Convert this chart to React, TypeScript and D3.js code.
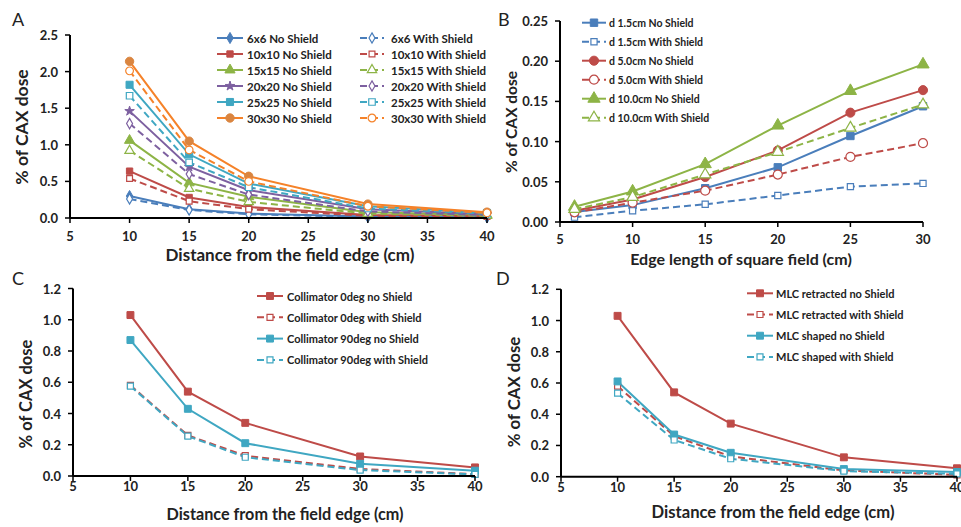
import React from "react";
import * as d3 from "d3";

// ---------- DATA ----------
const distances = [10, 15, 20, 30, 40];
const fieldEdges = [6, 10, 15, 20, 25, 30];

// Panel A: field size series vs distance
const a6x6No = [0.3, 0.12, 0.06, 0.02, 0.01];
const a6x6With = [0.26, 0.11, 0.05, 0.015, 0.01];
const a10x10No = [0.64, 0.28, 0.15, 0.04, 0.03];
const a10x10With = [0.54, 0.23, 0.12, 0.03, 0.02];
const a15x15No = [1.06, 0.48, 0.29, 0.08, 0.04];
const a15x15With = [0.92, 0.4, 0.22, 0.06, 0.03];
const a20x20No = [1.46, 0.7, 0.38, 0.12, 0.05];
const a20x20With = [1.29, 0.6, 0.32, 0.09, 0.04];
const a25x25No = [1.82, 0.87, 0.47, 0.16, 0.07];
const a25x25With = [1.67, 0.76, 0.42, 0.13, 0.06];
const a30x30No = [2.14, 1.05, 0.57, 0.19, 0.08];
const a30x30With = [2.01, 0.93, 0.5, 0.16, 0.07];

// Panel B: depth series vs edge length
const b15No = [0.0125, 0.021, 0.042, 0.068, 0.107, 0.144];
const b15With = [0.006, 0.014, 0.022, 0.033, 0.044, 0.048];
const b50No = [0.014, 0.028, 0.056, 0.089, 0.136, 0.164];
const b50With = [0.012, 0.024, 0.039, 0.059, 0.081, 0.098];
const b100No = [0.019, 0.038, 0.072, 0.12, 0.163, 0.196];
const b100With = [0.016, 0.031, 0.059, 0.087, 0.117, 0.146];

// Panel C: collimator angle
const c0No = [1.03, 0.54, 0.34, 0.125, 0.055];
const c0With = [0.58, 0.26, 0.13, 0.045, 0.012];
const c90No = [0.87, 0.43, 0.21, 0.078, 0.034];
const c90With = [0.575, 0.255, 0.12, 0.038, 0.01];

// Panel D: MLC
const dRetNo = [1.03, 0.54, 0.34, 0.124, 0.054];
const dRetWith = [0.58, 0.26, 0.13, 0.04, 0.012];
const dShapedNo = [0.61, 0.27, 0.153, 0.049, 0.03];
const dShapedWith = [0.535, 0.235, 0.115, 0.036, 0.018];

const ticksDistance = [5, 10, 15, 20, 25, 30, 35, 40];
const ticksEdge = [5, 10, 15, 20, 25, 30];
const ticksA = [0, 0.5, 1.0, 1.5, 2.0, 2.5];
const ticksB = [0, 0.05, 0.1, 0.15, 0.2, 0.25];
const ticksCD = [0, 0.2, 0.4, 0.6, 0.8, 1.0, 1.2];

// ---------- STYLE ----------
const BLUE = "#4A7EBB";
const RED = "#BE4B48";
const GREEN = "#8DB446";
const PURPLE = "#7D60A0";
const AQUA = "#3FA7C2";
const ORANGE = "#F58229";
const FONT = "Lato, 'Open Sans', sans-serif";

type Sym = "diamond" | "square" | "triangle" | "star" | "circle";
type Series = { name: string; values: number[]; color: string; sym: Sym; dashed: boolean; size?: number; mfill?: string };

const symMap: Record<Sym, d3.SymbolType> = {
  diamond: d3.symbolDiamond,
  square: d3.symbolSquare,
  triangle: d3.symbolTriangle,
  star: d3.symbolStar,
  circle: d3.symbolCircle,
};

function Marker({ s, x, y }: { s: Series; x: number; y: number }) {
  const size = s.size ?? 45;
  const path = d3.symbol(symMap[s.sym], s.dashed ? size * 0.85 : size)();
  return (
    <path
      d={path || ""}
      transform={`translate(${x},${y})`}
      fill={s.dashed ? "white" : s.mfill ?? s.color}
      stroke={s.mfill ?? s.color}
      strokeWidth={s.dashed ? 1.2 : 1}
    />
  );
}

type PanelProps = {
  letter: string;
  letterPos: [number, number];
  xs: number[];
  xDomain: [number, number];
  yDomain: [number, number];
  px: [number, number];
  py: [number, number]; // bottom, top
  xTicks: number[];
  yTicks: number[];
  yFmt: (v: number) => string;
  xLabelGap: number;
  series: Series[];
  xTitle: string;
  xTitlePos: [number, number];
  xTitleSize: number;
  yTitlePos: [number, number];
  yTitleSize: number;
  legend: { cols: { lineX: [number, number]; textX: number; items: Series[] }[]; y0: number; dy: number; size: number };
};

function Panel(p: PanelProps) {
  const x = d3.scaleLinear().domain(p.xDomain).range(p.px);
  const y = d3.scaleLinear().domain(p.yDomain).range(p.py);
  const line = d3
    .line<[number, number]>()
    .x((d) => x(d[0]))
    .y((d) => y(d[1]));
  return (
    <g>
      <text x={p.letterPos[0]} y={p.letterPos[1]} fontSize={18} fontFamily={FONT} fill="#222">
        {p.letter}
      </text>
      {p.series.map((s, i) => (
        <path
          key={i}
          d={line(p.xs.map((v, j) => [v, s.values[j]] as [number, number])) || ""}
          fill="none"
          stroke={s.color}
          strokeWidth={2}
          strokeDasharray={s.dashed ? "7,4" : undefined}
        />
      ))}
      {p.series.map((s, i) => (
        <g key={"m" + i}>
          {p.xs.map((v, j) => (
            <Marker key={j} s={s} x={x(v)} y={y(s.values[j])} />
          ))}
        </g>
      ))}
      <line x1={p.px[0]} x2={p.px[1]} y1={p.py[0]} y2={p.py[0]} stroke="#000" strokeWidth={2} />
      <line x1={p.px[0]} x2={p.px[0]} y1={p.py[0]} y2={p.py[1]} stroke="#000" strokeWidth={2} />
      {p.xTicks.map((t) => (
        <g key={"xt" + t}>
          <line x1={x(t)} x2={x(t)} y1={p.py[0]} y2={p.py[0] + 5} stroke="#000" strokeWidth={1.5} />
          <text
            x={x(t)}
            y={p.py[0] + p.xLabelGap}
            textAnchor="middle"
            dominantBaseline="central"
            fontSize={13}
            fontWeight={700}
            fontFamily={FONT}
            fill="#222"
          >
            {t}
          </text>
        </g>
      ))}
      {p.yTicks.map((t) => (
        <g key={"yt" + t}>
          <line x1={p.px[0] - 5} x2={p.px[0]} y1={y(t)} y2={y(t)} stroke="#000" strokeWidth={1.5} />
          <text
            x={p.px[0] - 12}
            y={y(t)}
            textAnchor="end"
            dominantBaseline="central"
            fontSize={13}
            fontWeight={700}
            fontFamily={FONT}
            fill="#222"
          >
            {p.yFmt(t)}
          </text>
        </g>
      ))}
      <text
        x={p.xTitlePos[0]}
        y={p.xTitlePos[1]}
        textAnchor="middle"
        fontSize={p.xTitleSize}
        fontWeight={700}
        fontFamily={FONT}
        fill="#222"
      >
        {p.xTitle}
      </text>
      <text
        transform={`translate(${p.yTitlePos[0]},${p.yTitlePos[1]}) rotate(-90)`}
        textAnchor="middle"
        dominantBaseline="central"
        fontSize={p.yTitleSize}
        fontWeight={700}
        fontFamily={FONT}
        fill="#222"
      >
        % of CAX dose
      </text>
      {p.legend.cols.map((c, ci) => (
        <g key={"lc" + ci}>
          {c.items.map((s, i) => {
            const yy = p.legend.y0 + i * p.legend.dy;
            const mx = (c.lineX[0] + c.lineX[1]) / 2;
            return (
              <g key={i}>
                <line
                  x1={c.lineX[0]}
                  x2={c.lineX[1]}
                  y1={yy}
                  y2={yy}
                  stroke={s.color}
                  strokeWidth={2}
                  strokeDasharray={s.dashed ? "7,4" : undefined}
                />
                <Marker s={s} x={mx} y={yy} />
                <text
                  x={c.textX}
                  y={yy}
                  dominantBaseline="central"
                  fontSize={p.legend.size}
                  fontWeight={700}
                  fontFamily={FONT}
                  fill="#222"
                >
                  {s.name}
                </text>
              </g>
            );
          })}
        </g>
      ))}
    </g>
  );
}

const aNo: Series[] = [
  { name: "6x6 No Shield", values: a6x6No, color: BLUE, sym: "diamond", dashed: false, size: 36 },
  { name: "10x10 No Shield", values: a10x10No, color: RED, sym: "square", dashed: false, size: 40 },
  { name: "15x15 No Shield", values: a15x15No, color: GREEN, sym: "triangle", dashed: false, size: 45 },
  { name: "20x20 No Shield", values: a20x20No, color: PURPLE, sym: "star", dashed: false, size: 28 },
  { name: "25x25 No Shield", values: a25x25No, color: AQUA, sym: "square", dashed: false, size: 50 },
  { name: "30x30 No Shield", values: a30x30No, color: ORANGE, sym: "circle", dashed: false, size: 55, mfill: "#DA8540" },
];
const aWith: Series[] = [
  { name: "6x6 With Shield", values: a6x6With, color: BLUE, sym: "diamond", dashed: true, size: 36 },
  { name: "10x10 With Shield", values: a10x10With, color: RED, sym: "square", dashed: true, size: 40 },
  { name: "15x15 With Shield", values: a15x15With, color: GREEN, sym: "triangle", dashed: true, size: 45 },
  { name: "20x20 With Shield", values: a20x20With, color: PURPLE, sym: "diamond", dashed: true, size: 36 },
  { name: "25x25 With Shield", values: a25x25With, color: AQUA, sym: "square", dashed: true, size: 50 },
  { name: "30x30 With Shield", values: a30x30With, color: ORANGE, sym: "circle", dashed: true, size: 55 },
];
const bSeries: Series[] = [
  { name: "d 1.5cm No Shield", values: b15No, color: BLUE, sym: "square", dashed: false, size: 55 },
  { name: "d 1.5cm With Shield", values: b15With, color: BLUE, sym: "square", dashed: true, size: 45 },
  { name: "d 5.0cm No Shield", values: b50No, color: RED, sym: "circle", dashed: false, size: 65 },
  { name: "d 5.0cm With Shield", values: b50With, color: RED, sym: "circle", dashed: true, size: 75 },
  { name: "d 10.0cm No Shield", values: b100No, color: GREEN, sym: "triangle", dashed: false, size: 65 },
  { name: "d 10.0cm With Shield", values: b100With, color: GREEN, sym: "triangle", dashed: true, size: 65 },
];
const cSeries: Series[] = [
  { name: "Collimator 0deg no Shield", values: c0No, color: RED, sym: "square", dashed: false, size: 48 },
  { name: "Collimator 0deg with Shield", values: c0With, color: RED, sym: "square", dashed: true, size: 42 },
  { name: "Collimator 90deg no Shield", values: c90No, color: AQUA, sym: "square", dashed: false, size: 48 },
  { name: "Collimator 90deg with Shield", values: c90With, color: AQUA, sym: "square", dashed: true, size: 42 },
];
const dSeries: Series[] = [
  { name: "MLC retracted no Shield", values: dRetNo, color: RED, sym: "square", dashed: false, size: 48 },
  { name: "MLC retracted with Shield", values: dRetWith, color: RED, sym: "square", dashed: true, size: 42 },
  { name: "MLC shaped no Shield", values: dShapedNo, color: AQUA, sym: "square", dashed: false, size: 48 },
  { name: "MLC shaped with Shield", values: dShapedWith, color: AQUA, sym: "square", dashed: true, size: 42 },
];

const f1 = (v: number) => v.toFixed(1);
const f2 = (v: number) => v.toFixed(2);

export default function App() {
  return (
    <svg width={961} height={527} style={{ position: "absolute", left: 0, top: 0, background: "white" }}>
      <rect width={961} height={527} fill="white" />
      <Panel
        letter="A"
        letterPos={[12, 26]}
        xs={distances}
        xDomain={[5, 40]}
        yDomain={[0, 2.5]}
        px={[70, 487]}
        py={[218, 35]}
        xTicks={ticksDistance}
        yTicks={ticksA}
        yFmt={f1}
        xLabelGap={18}
        series={[...aNo, ...aWith]}
        xTitle="Distance from the field edge (cm)"
        xTitlePos={[290, 261]}
        xTitleSize={17}
        yTitlePos={[21, 127]}
        yTitleSize={17.5}
        legend={{
          cols: [
            { lineX: [217, 243], textX: 247, items: aNo },
            { lineX: [360, 384], textX: 391, items: aWith },
          ],
          y0: 38,
          dy: 16,
          size: 11.5,
        }}
      />
      <Panel
        letter="B"
        letterPos={[498, 26]}
        xs={fieldEdges}
        xDomain={[5, 30]}
        yDomain={[0, 0.25]}
        px={[560, 923]}
        py={[222, 21]}
        xTicks={ticksEdge}
        yTicks={ticksB}
        yFmt={f2}
        xLabelGap={17}
        series={bSeries}
        xTitle="Edge length of square field (cm)"
        xTitlePos={[741, 265]}
        xTitleSize={16}
        yTitlePos={[511, 122]}
        yTitleSize={15.5}
        legend={{
          cols: [{ lineX: [582, 606], textX: 609, items: bSeries }],
          y0: 22.7,
          dy: 19,
          size: 10.5,
        }}
      />
      <Panel
        letter="C"
        letterPos={[12, 285]}
        xs={distances}
        xDomain={[5, 40]}
        yDomain={[0, 1.2]}
        px={[73, 475]}
        py={[476, 288.5]}
        xTicks={ticksDistance}
        yTicks={ticksCD}
        yFmt={f1}
        xLabelGap={10}
        series={cSeries}
        xTitle="Distance from the field edge (cm)"
        xTitlePos={[285, 520]}
        xTitleSize={16.2}
        yTitlePos={[26, 394]}
        yTitleSize={16.5}
        legend={{
          cols: [{ lineX: [257, 283], textX: 287, items: cSeries }],
          y0: 296,
          dy: 21.3,
          size: 11,
        }}
      />
      <Panel
        letter="D"
        letterPos={[496, 285]}
        xs={distances}
        xDomain={[5, 40]}
        yDomain={[0, 1.2]}
        px={[561, 957]}
        py={[476.7, 289.3]}
        xTicks={ticksDistance}
        yTicks={ticksCD}
        yFmt={f1}
        xLabelGap={10}
        series={dSeries}
        xTitle="Distance from the field edge (cm)"
        xTitlePos={[773, 518]}
        xTitleSize={16.6}
        yTitlePos={[513, 392]}
        yTitleSize={16.8}
        legend={{
          cols: [{ lineX: [747, 773], textX: 776, items: dSeries }],
          y0: 293.3,
          dy: 21.2,
          size: 11,
        }}
      />
    </svg>
  );
}
